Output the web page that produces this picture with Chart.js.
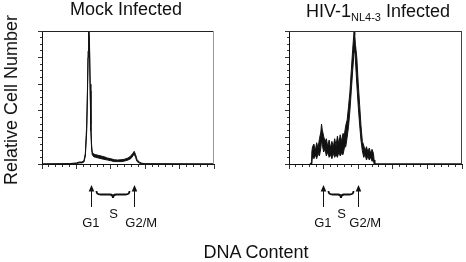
<!DOCTYPE html>
<html>
<head>
<meta charset="utf-8">
<script src="https://cdn.jsdelivr.net/npm/chart.js@4.4.1/dist/chart.umd.min.js"></script>
<style>
  html, body { margin: 0; padding: 0; background: #fff; }
  #fig { position: relative; width: 466px; height: 262px; overflow: hidden;
         font-family: "Liberation Sans", Arial, sans-serif; color: #111; }
  #fig canvas { position: absolute; top: 0; }
  .txt { position: absolute; white-space: nowrap; line-height: 1; }
  .title { font-size: 18px; transform: translateX(-50%); }
  .sub { font-size: 11px; position: relative; top: 4px; }
  #ylabel { font-size: 18px; left: 11px; top: 100px; transform: translate(-50%, -50%) rotate(-90deg); }
  #xlabel { font-size: 18px; left: 256px; top: 243px; transform: translateX(-50%); }
  .mark { font-size: 13px; transform: translate(-50%, -50%); }
</style>
</head>
<body>
<div id="fig">
  <canvas id="mockChart" width="233" height="262" style="left:0"></canvas>
  <canvas id="hivChart" width="233" height="262" style="left:233px"></canvas>
  <div class="txt title" style="left:126px; top:0">Mock Infected</div>
  <div class="txt title" style="left:378px; top:2px">HIV-1<span class="sub">NL4-3</span> Infected</div>
  <div class="txt" id="ylabel">Relative Cell Number</div>
  <div class="txt" id="xlabel">DNA Content</div>
</div>
<script>
// --- Data (DNA content channel vs relative cell number) ---
const mockChannels = [0, 40, 50, 54, 58, 61, 63, 65, 66, 67, 68, 69, 70, 71, 72, 73, 75, 78, 82, 86,
  90, 95, 100, 105, 110, 115, 120, 125, 129, 132, 134, 136, 138, 141, 145, 150, 250];
const mockHigh = [0, 0.3, 0.8, 1.5, 1.5, 2.5, 8, 30, 55, 85, 100, 92, 60, 30, 15, 9, 7.5, 7, 6.5, 6,
  5.5, 4.5, 4, 3.2, 3, 3.2, 3.6, 4.5, 6, 8, 9.5, 7, 3.5, 1.5, 0.6, 0.2, 0];
const mockLow = [0, 0, 0.3, 0.8, 0.8, 1.5, 6, 25, 50, 80, 100, 88, 55, 25, 12, 7, 5.5, 5, 4.5, 4,
  3.5, 3, 2.5, 1.8, 1.8, 1.8, 2.2, 3, 4, 6, 7.5, 5, 2, 0.8, 0.2, 0, 0];

// noisy trace: upper and lower edge of the band
const hivChannels = [30, 32, 33, 34, 36, 38, 40, 42, 44, 46, 47, 48, 50, 52, 54, 56, 58, 60, 62, 64,
  66, 68, 70, 72, 74, 76, 78, 80, 82, 84, 86, 88, 90, 92, 94, 95, 96, 98, 100, 102,
  104, 106, 108, 110, 112, 114, 116, 118, 120, 122, 123, 124, 250];
const hivHigh = [0, 1, 9, 13, 15, 10, 16, 12, 19, 24, 30, 26, 21, 17, 19, 13, 18, 12, 17, 13,
  19, 14, 21, 15, 22, 17, 23, 22, 29, 33, 43, 54, 70, 86, 100, 97, 90, 80, 61, 45,
  29, 17, 14, 10, 13, 9, 12, 8, 11, 8, 3, 0, 0];
const hivLow = [0, 0, 2, 6, 4, 7, 4, 8, 6, 12, 18, 15, 9, 11, 6, 9, 5, 7, 4, 8,
  5, 7, 5, 9, 6, 8, 7, 12, 13, 20, 28, 40, 55, 70, 84, 88, 78, 60, 44, 30,
  18, 10, 5, 7, 3, 6, 3, 5, 2, 3, 0, 0, 0];

// cell-cycle markers: G1 and G2/M channel positions
const mockMarks = [71, 134];
const hivMarks = [49, 100];
const markNames = ["G1", "S", "G2/M"];

const INK = "#111";

// --- Plot frame (top + right edges) ---
const framePlugin = {
  id: "frame",
  afterDraw(chart, args, opts) {
    const { ctx, chartArea: a } = chart;
    ctx.save();
    ctx.lineWidth = 1;
    ctx.strokeStyle = opts.topColor;
    ctx.beginPath();
    ctx.moveTo(a.left, a.top + 0.5);
    ctx.lineTo(a.right, a.top + 0.5);
    ctx.stroke();
    ctx.strokeStyle = opts.rightColor;
    ctx.beginPath();
    ctx.moveTo(a.right - 0.5, a.top);
    ctx.lineTo(a.right - 0.5, a.bottom);
    ctx.stroke();
    ctx.restore();
  }
};

// --- Arrows and S-phase brace under the x axis ---
const markerPlugin = {
  id: "markers",
  afterDraw(chart, args, opts) {
    const { ctx } = chart;
    const xs = opts.values.map((v) => Math.round(chart.scales.x.getPixelForValue(v)) + 0.5);
    ctx.save();
    ctx.strokeStyle = INK;
    ctx.fillStyle = INK;
    xs.forEach((x) => {
      ctx.lineWidth = 1;
      ctx.beginPath();
      ctx.moveTo(x, 207);
      ctx.lineTo(x, 190);
      ctx.stroke();
      ctx.beginPath();
      ctx.moveTo(x, 185);
      ctx.lineTo(x - 2.8, 191.5);
      ctx.lineTo(x + 2.8, 191.5);
      ctx.closePath();
      ctx.fill();
    });
    const x1 = xs[0] + 5, x2 = xs[1] - 5, mid = (x1 + x2) / 2;
    const yb = 194.5;
    ctx.lineWidth = 1.8;
    ctx.beginPath();
    ctx.moveTo(x1, 191);
    ctx.quadraticCurveTo(x1, yb, x1 + 4, yb);
    ctx.lineTo(mid - 3, yb);
    ctx.quadraticCurveTo(mid, yb, mid, 198);
    ctx.quadraticCurveTo(mid, yb, mid + 3, yb);
    ctx.lineTo(x2 - 4, yb);
    ctx.quadraticCurveTo(x2, yb, x2, 191);
    ctx.stroke();
    ctx.restore();
  }
};

function toPoints(xs, ys) {
  return xs.map((x, i) => ({ x: x, y: ys[i] }));
}

// minor ticks keep only the 2px next to the axis line
function tickDash(step) {
  return (c) => (c.tick && c.tick.value % step === 0 ? [] : [2, 20]);
}

function makeChart(id, channels, high, low, marks, pad, frameColors) {
  return new Chart(document.getElementById(id), {
    type: "line",
    data: {
      datasets: [
        {
          data: toPoints(channels, high),
          borderColor: INK,
          borderWidth: 1,
          pointRadius: 0,
          fill: false
        },
        {
          data: toPoints(channels, low),
          borderColor: INK,
          borderWidth: 1,
          pointRadius: 0,
          backgroundColor: INK,
          fill: "-1"
        }
      ]
    },
    options: {
      responsive: false,
      animation: false,
      devicePixelRatio: 1,
      layout: { padding: pad },
      plugins: {
        legend: { display: false },
        tooltip: { enabled: false },
        frame: frameColors,
        markers: { values: marks }
      },
      scales: {
        x: {
          type: "linear",
          min: 0,
          max: 250,
          ticks: { display: false, stepSize: 10 },
          grid: {
            drawOnChartArea: false,
            tickLength: 5,
            tickColor: "#333",
            tickBorderDash: tickDash(50)
          },
          border: { display: true, color: INK, width: 1 },
          afterFit: (s) => { s.height = 6; }
        },
        y: {
          min: 0,
          max: 100,
          ticks: { display: false, stepSize: 5 },
          grid: {
            drawOnChartArea: false,
            tickLength: 4,
            tickColor: "#333",
            tickBorderDash: tickDash(20),
            tickBorderDashOffset: 20
          },
          border: { display: true, color: INK, width: 1 },
          afterFit: (s) => { s.width = 6; }
        }
      }
    },
    plugins: [framePlugin, markerPlugin]
  });
}

function addMarkLabels(chart, offsetLeft, marks) {
  const fig = document.getElementById("fig");
  const xa = chart.scales.x.getPixelForValue(marks[0]) + offsetLeft;
  const xb = chart.scales.x.getPixelForValue(marks[1]) + offsetLeft;
  const spots = [
    [xa, 222.3],
    [(xa + xb) / 2 + 1, 213.4],
    [xb + 7, 222.3]
  ];
  spots.forEach((p, i) => {
    const el = document.createElement("div");
    el.className = "txt mark";
    el.textContent = markNames[i];
    el.style.left = p[0] + "px";
    el.style.top = p[1] + "px";
    fig.appendChild(el);
  });
}

const mockChart = makeChart("mockChart", mockChannels, mockHigh, mockLow, mockMarks,
  { left: 36, right: 19, top: 31, bottom: 92 }, { topColor: "#222", rightColor: "#999" });
const hivChart = makeChart("hivChart", hivChannels, hivHigh, hivLow, hivMarks,
  { left: 50, right: 4, top: 31, bottom: 92 }, { topColor: "#333", rightColor: "#444" });

addMarkLabels(mockChart, 0, mockMarks);
addMarkLabels(hivChart, 233, hivMarks);
</script>
</body>
</html>
